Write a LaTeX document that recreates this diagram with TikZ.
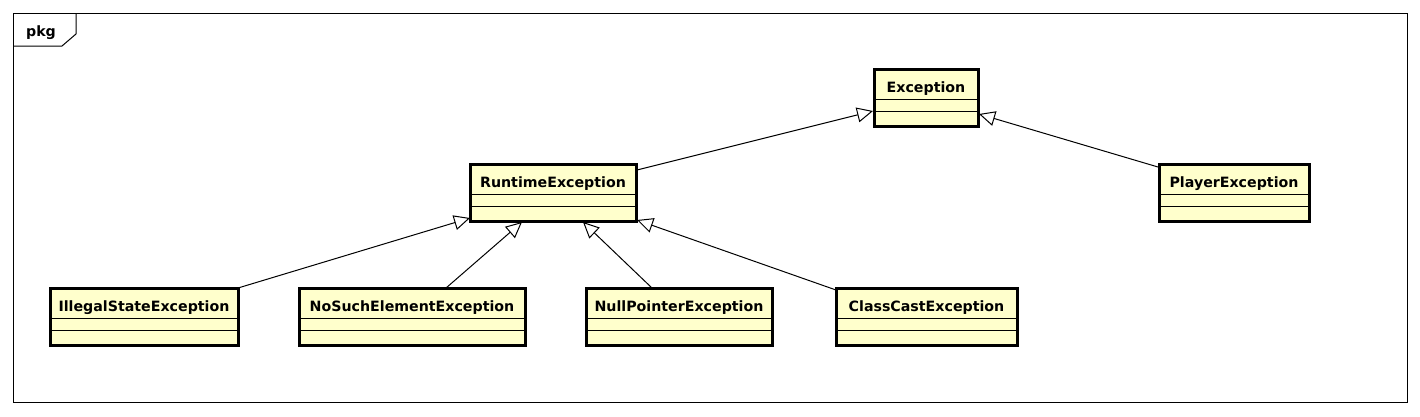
\documentclass[tikz,border=0pt]{standalone}
\usepackage{fontspec}
\usepackage{tikz}
\usetikzlibrary{arrows.meta, calc}
\newfontfamily\umlfont{DejaVu Sans}
\definecolor{clsfill}{RGB}{255,255,204}
\definecolor{clsline}{RGB}{0,0,0}
\tikzset{
  umlclass/.style={rectangle, draw=clsline, fill=clsfill, line width=3pt,
    minimum height=57pt, inner sep=0pt, outer sep=0pt, anchor=north west},
  classname/.style={anchor=base, inner sep=0pt,
    font=\umlfont\bfseries\fontsize{14.2}{17}\selectfont},
  sepline/.style={line width=1pt, color=clsline},
  inherit/.style={-{Triangle[open, length=16pt, width=15pt]},
    line width=1pt, color=clsline},
  pkgframe/.style={line width=1pt, draw=clsline}
}
% class box: name, left, top, width, title
\newcommand{\umlbox}[5]{%
  \node[umlclass, minimum width=#4pt] (#1) at (#2,#3) {};
  \node[classname] (#1-title) at ($(#1.north)+(0,23)$) {#5};
  \draw[sepline] ($(#1.north west)+(0,30.5)$) -- ($(#1.north east)+(0,30.5)$);
  \draw[sepline] ($(#1.north west)+(0,42)$) -- ($(#1.north east)+(0,42)$);
}

\begin{document}
\begin{tikzpicture}[x=1pt, y=-1pt]
  \useasboundingbox (0,0) rectangle (1420,416);

  % Package frame with tab
  \draw[pkgframe] (13,13) rectangle (1407,402);
  \draw[pkgframe] (13,46) -- (62,46) -- (76,34) -- (76,13);
  \node[classname] (pkg) at (41,36) {pkg};

  % Classes
  \umlbox{exc}{874}{69}{104}{Exception}
  \umlbox{rte}{470}{164}{166}{RuntimeException}
  \umlbox{ply}{1159}{164}{150}{PlayerException}
  \umlbox{ise}{50}{288}{188}{IllegalStateException}
  \umlbox{nse}{299}{288}{226}{NoSuchElementException}
  \umlbox{npe}{586}{288}{186}{NullPointerException}
  \umlbox{cce}{836}{288}{181}{ClassCastException}

  % Generalizations
  \draw[inherit] ($(rte.north east)+(1,6)$) -- ($(exc.south west)+(-1,-15)$);
  \draw[inherit] ($(ply.north west)+(-1,3)$) -- ($(exc.south east)+(1,-12)$);
  \draw[inherit] (ise.north east) -- ($(rte.south west)+(0,-3)$);
  \draw[inherit] ($(nse.north west)+(147,0)$) -- ($(rte.south west)+(52,1)$);
  \draw[inherit] ($(npe.north west)+(66,0)$) -- ($(rte.south west)+(113,1)$);
  \draw[inherit] ($(cce.north west)+(0,2)$) -- ($(rte.south east)+(1,-1)$);
\end{tikzpicture}
\end{document}
